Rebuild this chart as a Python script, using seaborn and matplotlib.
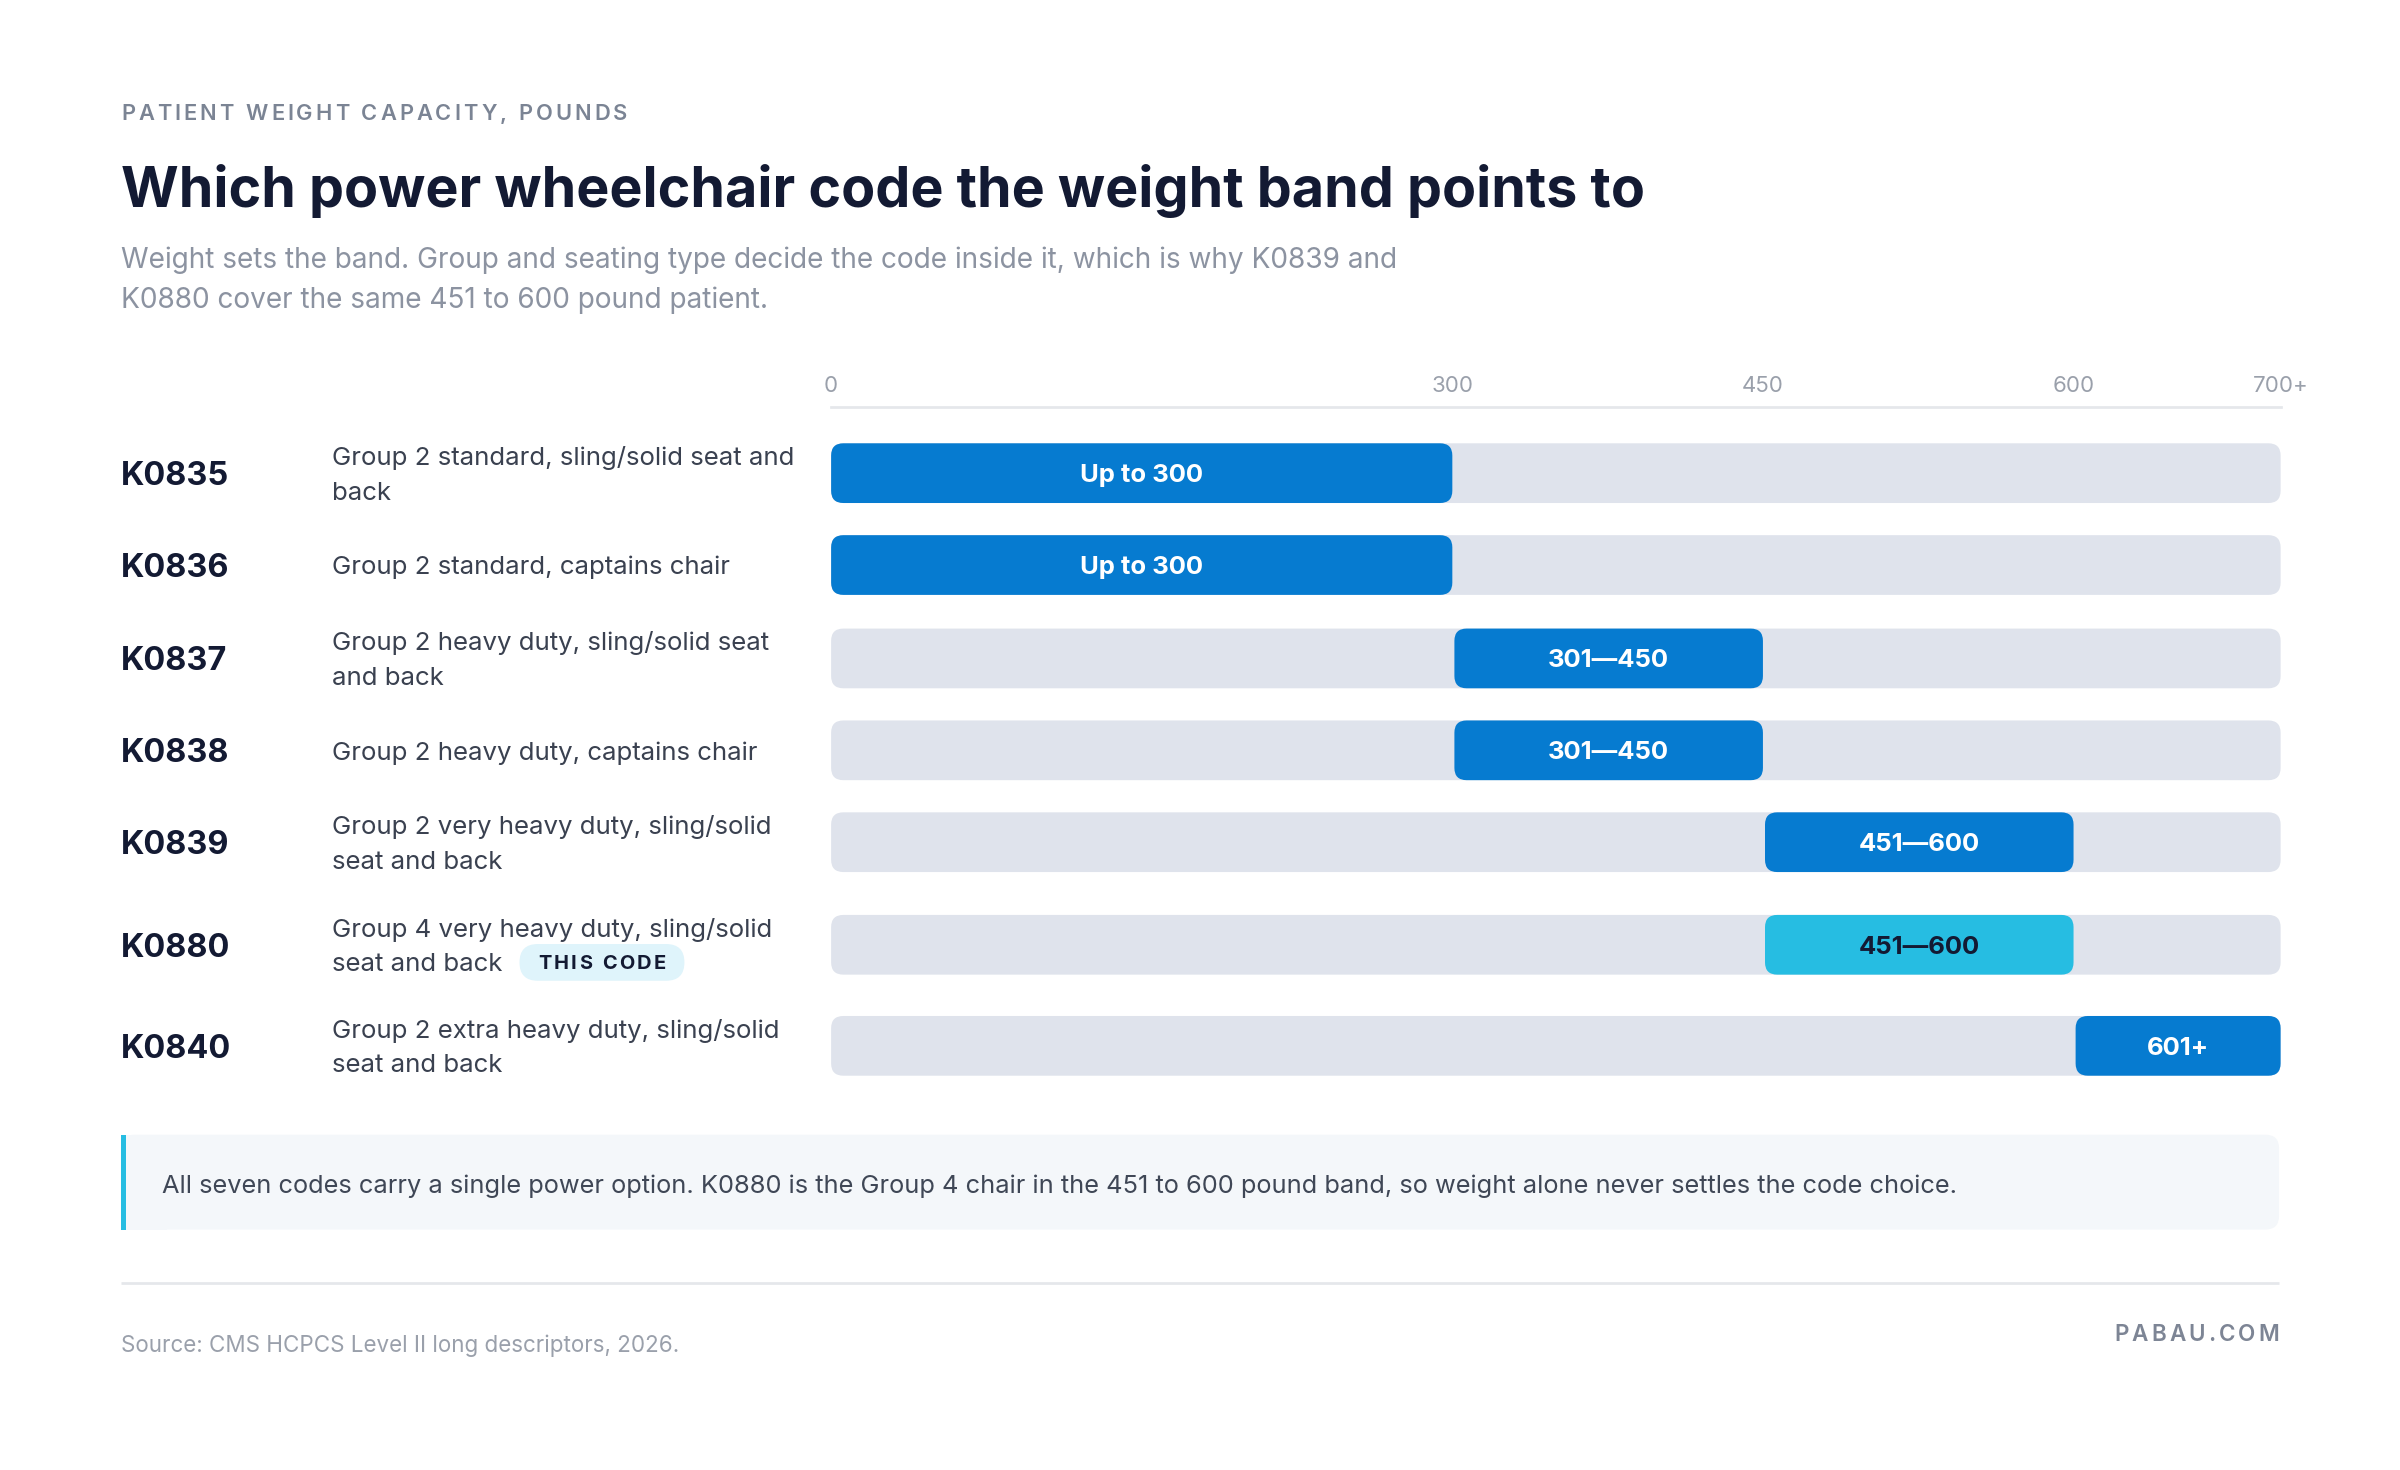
import matplotlib
matplotlib.use("Agg")
import matplotlib.pyplot as plt
import seaborn as sns
import pandas as pd
from matplotlib.patches import FancyBboxPatch, Rectangle

# ------------------------------
# data
# ------------------------------
codes = ["K0835", "K0836", "K0837", "K0838", "K0839", "K0880", "K0840"]
descriptions = [
    "Group 2 standard, sling/solid seat and\nback",
    "Group 2 standard, captains chair",
    "Group 2 heavy duty, sling/solid seat\nand back",
    "Group 2 heavy duty, captains chair",
    "Group 2 very heavy duty, sling/solid\nseat and back",
    "Group 4 very heavy duty, sling/solid\nseat and back",
    "Group 2 extra heavy duty, sling/solid\nseat and back",
]
band_low = [0, 0, 301, 301, 451, 451, 601]
band_high = [300, 300, 450, 450, 600, 600, 700]
band_labels = ["Up to 300", "Up to 300", "301\u2014450", "301\u2014450",
               "451\u2014600", "451\u2014600", "601+"]
highlight_code = "K0880"
tick_values = [0, 300, 450, 600, 700]
tick_labels = ["0", "300", "450", "600", "700+"]
axis_max = 700

eyebrow = "PATIENT WEIGHT CAPACITY, POUNDS"
title = "Which power wheelchair code the weight band points to"
subtitle = ["Weight sets the band. Group and seating type decide the code inside it, which is why K0839 and",
            "K0880 cover the same 451 to 600 pound patient."]
note = ("All seven codes carry a single power option. K0880 is the Group 4 chair in the "
        "451 to 600 pound band, so weight alone never settles the code choice.")
source = "Source: CMS HCPCS Level II long descriptors, 2026."
brand = "PABAU.COM"
badge = "THIS CODE"

# ------------------------------
# style / layout (layout units = 1568 x 960 canvas)
# ------------------------------
NAVY = "#131a33"
BODY = "#3a4150"
GREY = "#8c93a1"
LIGHT_GREY = "#9aa0ab"
BLUE = "#067bd0"
CYAN = "#26bde2"
TRACK = "#dfe3ec"
RULE = "#e5e7eb"

W, H = 1568, 960
row_centers = [309, 369, 430, 490, 550, 617, 683]
bar_h = 39
bar_x0, bar_x1 = 543, 1490
bar_top, bar_bottom = 266, 712

sns.set_theme(style="white")
plt.rcParams["font.family"] = ["Inter", "DejaVu Sans"]

fig = plt.figure(figsize=(16, 9.8), dpi=150)
px = fig.dpi * 16 / W  # output pixels per layout unit

bg = fig.add_axes([0, 0, 1, 1])
bg.set_xlim(0, W)
bg.set_ylim(H, 0)
bg.axis("off")

renderer = fig.canvas.get_renderer()


def text_width(s, **kw):
    t = bg.text(0, 0, s, **kw)
    w = t.get_window_extent(renderer).width / px
    t.remove()
    return w


def spaced_text(x, y, s, spacing, ha="left", **kw):
    widths = []
    for ch in s:
        if ch == " ":
            widths.append(text_width("a a", **kw) - text_width("aa", **kw))
        else:
            widths.append(text_width(ch, **kw))
    total = sum(widths) + spacing * (len(s) - 1)
    cx = x - total if ha == "right" else x
    for ch, w in zip(s, widths):
        if ch != " ":
            bg.text(cx, y, ch, ha="left", va="center_baseline", **kw)
        cx += w + spacing
    return total


# header
spaced_text(79, 73, eyebrow, 2.0, fontsize=10.5, fontweight="semibold", color="#7b8494")
bg.text(79, 121, title, fontsize=26.7, fontweight="bold", color=NAVY, va="center_baseline")
for i, line in enumerate(subtitle):
    bg.text(79, 168 + 26 * i, line, fontsize=13.45, color=GREY, va="center_baseline")

# row labels
for code, desc, yc in zip(codes, descriptions, row_centers):
    bg.text(79, yc, code, fontsize=15.6, fontweight="bold", color=NAVY, va="center_baseline")
    lines = desc.split("\n")
    y0 = yc - 11.5 * (len(lines) - 1)
    for j, line in enumerate(lines):
        bg.text(217, y0 + 23 * j, line, fontsize=12.4, color=BODY, va="center_baseline")
    if code == highlight_code:
        ly = y0 + 23 * (len(lines) - 1)
        lx = 217 + text_width(lines[-1], fontsize=12.4) + 11
        bw = text_width(badge, fontsize=9.6, fontweight="bold") + 1.6 * (len(badge) - 1) + 24
        bg.add_patch(FancyBboxPatch((lx, ly - 12), bw, 24,
                                    boxstyle="round,pad=0,rounding_size=12",
                                    fc="#dff4fb", ec="none"))
        spaced_text(lx + 12, ly, badge, 1.6, fontsize=9.6, fontweight="bold", color=NAVY)

# ------------------------------
# bars
# ------------------------------
ax = fig.add_axes([bar_x0 / W, 1 - bar_bottom / H, (bar_x1 - bar_x0) / W, (bar_bottom - bar_top) / H])
ax.patch.set_alpha(0)

df = pd.DataFrame({"code": codes, "row": row_centers, "low": band_low,
                   "high": band_high, "label": band_labels})
df["full"] = axis_max
rel_width = bar_h / min(b - a for a, b in zip(row_centers[:-1], row_centers[1:]))

sns.barplot(data=df, x="full", y="row", orient="y", native_scale=True,
            width=rel_width, color=TRACK, errorbar=None, ax=ax)
n_track = len(ax.patches)
sns.barplot(data=df, x="high", y="row", orient="y", native_scale=True,
            width=rel_width, color=BLUE, errorbar=None, ax=ax)

ax.set_xlim(0, axis_max)
ax.set_ylim(bar_bottom, bar_top)

units_per_px = axis_max / (bar_x1 - bar_x0)
radius = 8 * units_per_px
aspect = 8 / radius

for k, p in enumerate(list(ax.patches)):
    x, y, w, h = p.get_x(), p.get_y(), p.get_width(), p.get_height()
    fc = TRACK
    if k >= n_track:
        yc = y + h / 2
        i = min(range(len(df)), key=lambda r: abs(df["row"][r] - yc))
        x, w = df["low"][i], df["high"][i] - df["low"][i]
        fc = CYAN if df["code"][i] == highlight_code else BLUE
    p.remove()
    ax.add_patch(FancyBboxPatch((x, y), w, h,
                                boxstyle=f"round,pad=0,rounding_size={radius}",
                                mutation_aspect=aspect, fc=fc, ec="none", zorder=2))

for _, r in df.iterrows():
    tc = NAVY if r["code"] == highlight_code else "white"
    ax.text((r["low"] + r["high"]) / 2, r["row"], r["label"], ha="center",
            va="center_baseline", fontsize=12.3, fontweight="bold", color=tc, zorder=3)

ax.xaxis.tick_top()
ax.set_xticks(tick_values, tick_labels)
ax.set_yticks([])
ax.tick_params(axis="x", length=0, pad=5.5, labelsize=10.7, labelcolor=LIGHT_GREY)
for side in ["left", "right", "bottom"]:
    ax.spines[side].set_visible(False)
ax.spines["top"].set_color(RULE)
ax.spines["top"].set_linewidth(1.3)
ax.set_xlabel("")
ax.set_ylabel("")

# ------------------------------
# note box and footer
# ------------------------------
bg.add_patch(FancyBboxPatch((79, 741), 1410, 62, boxstyle="round,pad=0,rounding_size=9",
                            fc="#f4f7fa", ec="none"))
bg.add_patch(Rectangle((79, 741), 30, 62, fc="#f4f7fa", ec="none"))
bg.add_patch(Rectangle((79, 741), 3, 62, fc=CYAN, ec="none"))
bg.text(106, 773, note, fontsize=12.2, color="#3f4756", va="center_baseline")

bg.plot([79, 1489], [838, 838], color=RULE, lw=1.3, solid_capstyle="butt")
bg.text(79, 877, source, fontsize=10.75, color=LIGHT_GREY, va="center_baseline")
spaced_text(1489, 870, brand, 2.0, ha="right", fontsize=10.8, fontweight="semibold", color="#7d8595")

fig.savefig("out.png", dpi=150)
plt.close(fig)
